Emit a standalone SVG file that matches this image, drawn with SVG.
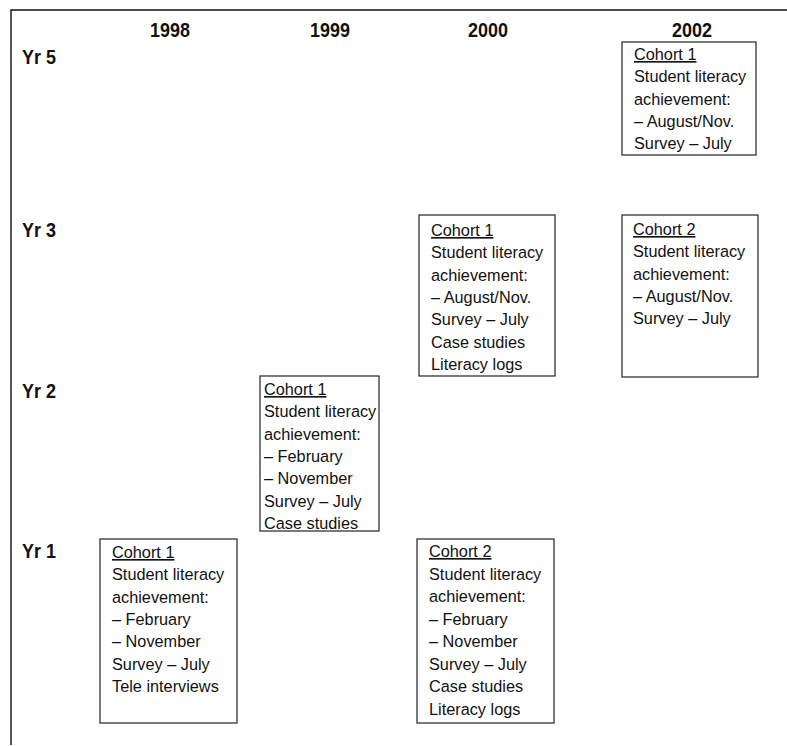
<svg xmlns="http://www.w3.org/2000/svg" width="787" height="746" viewBox="0 0 787 746">
<style>
.frame{stroke:#111;stroke-width:1.4;fill:none}
.box{fill:#fff;stroke:#222;stroke-width:1.2}
.hd{font-family:"Liberation Sans",Arial,sans-serif;font-weight:bold;font-size:20px;fill:#111}
.yr{font-family:"Liberation Sans",Arial,sans-serif;font-weight:bold;font-size:20px;fill:#111}
.t{font-family:"Liberation Sans",Arial,sans-serif;font-size:16.3px;fill:#111}
.u{text-decoration:underline}
</style>
<rect width="787" height="746" fill="#fff"/>
<g id="frame">
<path class="frame" d="M11,745 V10 H787"/>
</g>
<g id="headers">
<text class="hd" x="170" y="37" text-anchor="middle" textLength="40" lengthAdjust="spacingAndGlyphs">1998</text>
<text class="hd" x="330" y="37" text-anchor="middle" textLength="40" lengthAdjust="spacingAndGlyphs">1999</text>
<text class="hd" x="488" y="37" text-anchor="middle" textLength="40" lengthAdjust="spacingAndGlyphs">2000</text>
<text class="hd" x="692" y="37" text-anchor="middle" textLength="40" lengthAdjust="spacingAndGlyphs">2002</text>
<text class="yr" x="22" y="64" textLength="34" lengthAdjust="spacingAndGlyphs">Yr 5</text>
<text class="yr" x="22" y="237" textLength="34" lengthAdjust="spacingAndGlyphs">Yr 3</text>
<text class="yr" x="22" y="398" textLength="34" lengthAdjust="spacingAndGlyphs">Yr 2</text>
<text class="yr" x="22" y="558" textLength="34" lengthAdjust="spacingAndGlyphs">Yr 1</text>
</g>
<g id="n2002c1">
<rect class="box" x="622" y="42" width="134" height="113"/>
<text class="t" x="634" y="60"><tspan class="u">Cohort 1</tspan><tspan x="634" dy="22.3">Student literacy</tspan><tspan x="634" dy="22.3">achievement:</tspan><tspan x="634" dy="22.3">– August/Nov.</tspan><tspan x="634" dy="22.3">Survey – July</tspan></text>
</g>
<g id="n2002c2">
<rect class="box" x="622" y="215" width="136" height="162"/>
<text class="t" x="633" y="235"><tspan class="u">Cohort 2</tspan><tspan x="633" dy="22.3">Student literacy</tspan><tspan x="633" dy="22.3">achievement:</tspan><tspan x="633" dy="22.3">– August/Nov.</tspan><tspan x="633" dy="22.3">Survey – July</tspan></text>
</g>
<g id="n2000c1">
<rect class="box" x="419" y="215" width="136" height="161"/>
<text class="t" x="431" y="236"><tspan class="u">Cohort 1</tspan><tspan x="431" dy="22.3">Student literacy</tspan><tspan x="431" dy="22.3">achievement:</tspan><tspan x="431" dy="22.3">– August/Nov.</tspan><tspan x="431" dy="22.3">Survey – July</tspan><tspan x="431" dy="22.3">Case studies</tspan><tspan x="431" dy="22.3">Literacy logs</tspan></text>
</g>
<g id="n1999c1">
<rect class="box" x="260" y="376" width="119" height="155"/>
<text class="t" x="264" y="395"><tspan class="u">Cohort 1</tspan><tspan x="264" dy="22.3">Student literacy</tspan><tspan x="264" dy="22.3">achievement:</tspan><tspan x="264" dy="22.3">– February</tspan><tspan x="264" dy="22.3">– November</tspan><tspan x="264" dy="22.3">Survey – July</tspan><tspan x="264" dy="22.3">Case studies</tspan></text>
</g>
<g id="n1998c1">
<rect class="box" x="100" y="539" width="137" height="184"/>
<text class="t" x="112" y="558"><tspan class="u">Cohort 1</tspan><tspan x="112" dy="22.3">Student literacy</tspan><tspan x="112" dy="22.3">achievement:</tspan><tspan x="112" dy="22.3">– February</tspan><tspan x="112" dy="22.3">– November</tspan><tspan x="112" dy="22.3">Survey – July</tspan><tspan x="112" dy="22.3">Tele interviews</tspan></text>
</g>
<g id="n2000c2">
<rect class="box" x="417" y="539" width="137" height="184"/>
<text class="t" x="429" y="557"><tspan class="u">Cohort 2</tspan><tspan x="429" dy="22.5">Student literacy</tspan><tspan x="429" dy="22.5">achievement:</tspan><tspan x="429" dy="22.5">– February</tspan><tspan x="429" dy="22.5">– November</tspan><tspan x="429" dy="22.5">Survey – July</tspan><tspan x="429" dy="22.5">Case studies</tspan><tspan x="429" dy="22.5">Literacy logs</tspan></text>
</g>
<g id="connectors"></g>
</svg>
